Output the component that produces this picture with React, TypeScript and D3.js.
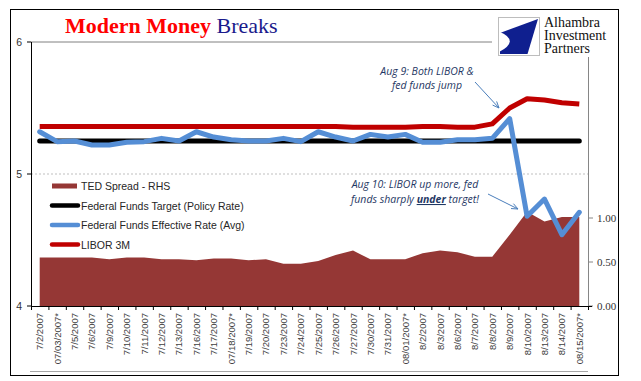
import React from 'react';
import * as d3 from 'd3';

const categories = [
  '7/2/2007', '07/03/2007*', '7/5/2007', '7/6/2007', '7/9/2007', '7/10/2007', '7/11/2007', '7/12/2007',
  '7/13/2007', '7/16/2007', '7/17/2007', '07/18/2007*', '7/19/2007', '7/20/2007', '7/23/2007', '7/24/2007',
  '7/25/2007', '7/26/2007', '7/27/2007', '7/30/2007', '7/31/2007', '08/01/2007*', '8/2/2007', '8/3/2007',
  '8/6/2007', '8/7/2007', '8/8/2007', '8/9/2007', '8/10/2007', '8/13/2007', '8/14/2007', '08/15/2007*',
];

const tedSpread = [
  0.55, 0.55, 0.55, 0.55, 0.53, 0.55, 0.55, 0.53,
  0.53, 0.52, 0.54, 0.54, 0.52, 0.53, 0.48, 0.48,
  0.51, 0.58, 0.63, 0.53, 0.53, 0.53, 0.60, 0.63,
  0.61, 0.56, 0.56, 0.81, 1.07, 0.96, 1.01, 1.01,
];

const fedTarget = [
  5.25, 5.25, 5.25, 5.25, 5.25, 5.25, 5.25, 5.25,
  5.25, 5.25, 5.25, 5.25, 5.25, 5.25, 5.25, 5.25,
  5.25, 5.25, 5.25, 5.25, 5.25, 5.25, 5.25, 5.25,
  5.25, 5.25, 5.25, 5.25, 5.25, 5.25, 5.25, 5.25,
];

const fedEffective = [
  5.32, 5.245, 5.25, 5.22, 5.22, 5.24, 5.245, 5.27,
  5.25, 5.32, 5.28, 5.26, 5.25, 5.25, 5.27, 5.245,
  5.32, 5.28, 5.25, 5.30, 5.28, 5.30, 5.24, 5.24,
  5.26, 5.26, 5.27, 5.42, 4.68, 4.81, 4.54, 4.71,
];

const libor3m = [
  5.36, 5.36, 5.36, 5.36, 5.36, 5.36, 5.36, 5.36,
  5.36, 5.36, 5.36, 5.36, 5.36, 5.36, 5.36, 5.36,
  5.36, 5.36, 5.355, 5.355, 5.355, 5.355, 5.36, 5.36,
  5.355, 5.355, 5.38, 5.50, 5.57, 5.56, 5.54, 5.53,
];

const leftTicks = [4, 5, 6];
const rightTicks = [0, 0.5, 1.0];
const rightTickLabels = ['0.00', '0.50', '1.00'];

const legendItems = [
  { label: 'TED Spread - RHS', kind: 'area', color: '#953735' },
  { label: 'Federal Funds Target (Policy Rate)', kind: 'line', color: '#000000' },
  { label: 'Federal Funds Effective Rate (Avg)', kind: 'line', color: '#558ed5' },
  { label: 'LIBOR 3M', kind: 'line', color: '#c00000' },
];

export default function App() {
  const left = 31, right = 588, top = 42, bottom = 306;
  const x = d3.scaleBand<string>().domain(categories).range([left, right]).padding(0);
  const yL = d3.scaleLinear().domain([4, 6]).range([bottom, top]);
  const yR = d3.scaleLinear().domain([0, 3]).range([bottom, top]);
  const cx = (i: number) => (x(categories[i]) as number) + x.bandwidth() / 2;

  const area = d3.area<number>().x((_, i) => cx(i)).y0(yR(0)).y1((d) => yR(d));
  const line = d3.line<number>().x((_, i) => cx(i)).y((d) => yL(d));

  const sans = 'Liberation Sans, Arial, sans-serif';
  const serif = 'Liberation Serif, Times New Roman, serif';
  const annoFont = 'Open Sans, Liberation Sans, sans-serif';
  const annoColor = '#1f3864';
  const arrowColor = '#4a7ebb';

  const lx = 498, ly = 17, lw = 41, lh = 38;

  const arrow = (x1: number, y1: number, x2: number, y2: number) => {
    const ang = Math.atan2(y2 - y1, x2 - x1);
    const L = 7, a = 0.4;
    const p1 = [x2 - L * Math.cos(ang - a), y2 - L * Math.sin(ang - a)];
    const p2 = [x2 - L * Math.cos(ang + a), y2 - L * Math.sin(ang + a)];
    return (
      <g stroke={arrowColor} strokeWidth={1} fill="none">
        <line x1={x1} y1={y1} x2={x2} y2={y2} />
        <polyline points={`${p1[0]},${p1[1]} ${x2},${y2} ${p2[0]},${p2[1]}`} />
      </g>
    );
  };

  return (
    <svg width={641} height={381} style={{ position: 'absolute', left: 0, top: 0, background: '#fff' }}>
      <rect x={0} y={0} width={641} height={381} fill="#fff" />
      <rect x={10.5} y={9.5} width={608} height={366} fill="none" stroke="#000" strokeWidth={1} />

      {/* gridlines */}
      <line x1={left} x2={right} y1={yL(6)} y2={yL(6)} stroke="#808080" strokeWidth={1} />
      <line x1={left} x2={right} y1={yL(5)} y2={yL(5)} stroke="#bfbfbf" strokeWidth={1} strokeDasharray="2,2" />

      {/* TED area */}
      <path d={area(tedSpread) || ''} fill="#953735" />

      {/* lines */}
      <path d={line(fedTarget) || ''} fill="none" stroke="#000" strokeWidth={5} strokeLinecap="round" />
      <path d={line(libor3m) || ''} fill="none" stroke="#c00000" strokeWidth={5} strokeLinejoin="round" />
      <path d={line(fedEffective) || ''} fill="none" stroke="#558ed5" strokeWidth={5} strokeLinejoin="round" strokeLinecap="round" />

      {/* left axis */}
      <line x1={left + 0.5} x2={left + 0.5} y1={top} y2={bottom} stroke="#000" />
      {leftTicks.map((t) => (
        <g key={t}>
          <line x1={left - 4} x2={left} y1={yL(t)} y2={yL(t)} stroke="#000" />
          <text x={22} y={yL(t)} textAnchor="end" dominantBaseline="central" fontFamily={sans} fontSize={10.5} fill="#333">
            {t}
          </text>
        </g>
      ))}

      {/* right axis */}
      <line x1={right + 0.5} x2={right + 0.5} y1={top} y2={bottom} stroke="#868686" />
      {rightTicks.map((t, i) => (
        <g key={t}>
          <line x1={right} x2={right + 5} y1={yR(t)} y2={yR(t)} stroke="#868686" />
          <text x={597} y={yR(t)} dominantBaseline="central" fontFamily={serif} fontSize={11} fill="#333">
            {rightTickLabels[i]}
          </text>
        </g>
      ))}

      {/* bottom axis */}
      <line x1={left} x2={right + 4} y1={bottom + 0.5} y2={bottom + 0.5} stroke="#000" />
      {categories.map((c) => (
        <line key={'t' + c} x1={(x(c) as number) + 0.5} x2={(x(c) as number) + 0.5} y1={bottom} y2={bottom + 4} stroke="#000" />
      ))}
      <line x1={right + 0.5} x2={right + 0.5} y1={bottom} y2={bottom + 4} stroke="#000" />
      {categories.map((c, i) => (
        <text
          key={'l' + c}
          transform={`translate(${cx(i)},313) rotate(-90)`}
          textAnchor="end"
          dominantBaseline="central"
          fontFamily={sans}
          fontSize={9.5}
          fill="#404040"
        >
          {c}
        </text>
      ))}
      <line x1={30} x2={right} y1={371.5} y2={371.5} stroke="#a6a6a6" />

      {/* legend */}
      {legendItems.map((it, i) => {
        const yy = 186 + i * 19.5;
        return (
          <g key={it.label}>
            {it.kind === 'area' ? (
              <rect x={52} y={yy - 2.5} width={25} height={5} fill={it.color} />
            ) : (
              <line x1={52} x2={78} y1={yy} y2={yy} stroke={it.color} strokeWidth={4.5} strokeLinecap="round" />
            )}
            <text x={81} y={yy} dominantBaseline="central" fontFamily={sans} fontSize={10.5} fill="#262626">
              {it.label}
            </text>
          </g>
        );
      })}

      {/* annotations */}
      <g fontFamily={annoFont} fontStyle="italic" fontSize={10.5} fill={annoColor} textAnchor="middle">
        <text x={427} y={75}>Aug 9: Both LIBOR &amp;</text>
        <text x={427} y={89}>fed funds jump</text>
        <text x={415} y={188}>Aug 10: LIBOR up more, fed</text>
        <text x={415} y={203}>
          funds sharply <tspan fontWeight="bold" textDecoration="underline">under</tspan> target!
        </text>
      </g>
      {arrow(475, 82, 499, 108)}
      {arrow(488, 194, 518, 209)}

      {/* title */}
      <text x={65} y={33} fontFamily={serif} fontSize={22}>
        <tspan fill="#ff0000" fontWeight="bold">Modern Money</tspan>
        <tspan fill="#1a1a8c"> Breaks</tspan>
      </text>

      {/* logo */}
      <rect x={492} y={12} width={125} height={45} fill="#fff" />
      <rect x={lx + 0.5} y={ly + 0.5} width={lw} height={lh} fill="#fff" stroke="#bdbdbd" />
      <path
        d={`M${lx + lw - 1},${ly + 2} L${lx + 2},${ly + lh * 0.42} L${lx + 2},${ly + lh - 1} L${lx + lw * 0.72},${ly + lh - 1} Z`}
        fill="#0f1f8f"
      />
      <path
        d={`M${lx + 1},${ly + lh * 0.38} Q${lx + lw * 0.55},${ly + lh * 0.62} ${lx + 1},${ly + lh * 0.92} Z`}
        fill="#fff"
      />
      <g fontFamily={serif} fontSize={14} fill="#111">
        <text x={544} y={27}>Alhambra</text>
        <text x={544} y={40}>Investment</text>
        <text x={544} y={53}>Partners</text>
      </g>
    </svg>
  );
}
